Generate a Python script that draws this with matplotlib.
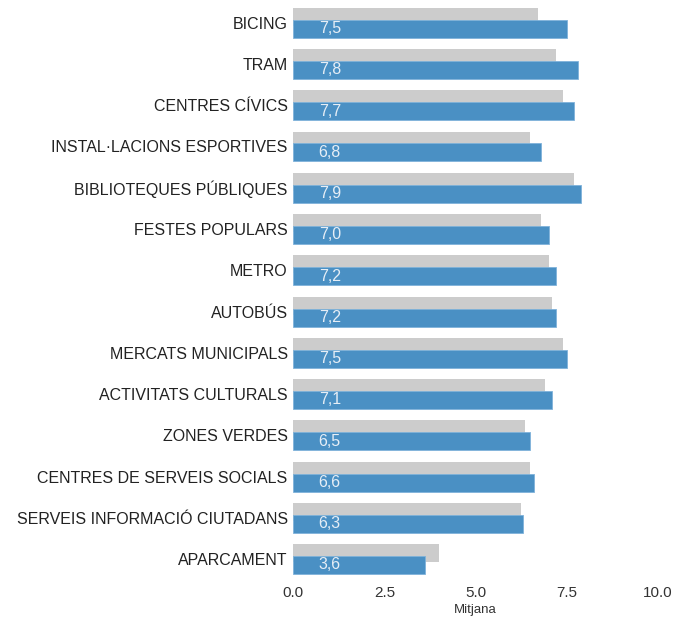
import matplotlib
matplotlib.use("Agg")
import matplotlib.pyplot as plt
import numpy as np

plt.rcParams['font.family'] = ['Liberation Sans', 'DejaVu Sans']

# services, top to bottom
serveis = ["BICING", "TRAM", "CENTRES CÍVICS", "INSTAL·LACIONS ESPORTIVES",
           "BIBLIOTEQUES PÚBLIQUES", "FESTES POPULARS", "METRO", "AUTOBÚS",
           "MERCATS MUNICIPALS", "ACTIVITATS CULTURALS", "ZONES VERDES",
           "CENTRES DE SERVEIS SOCIALS", "SERVEIS INFORMACIÓ CIUTADANS",
           "APARCAMENT"]
# current mean score (blue)
mitjana_actual = [7.5, 7.8, 7.7, 6.8, 7.9, 7.0, 7.2, 7.2, 7.5, 7.1, 6.5, 6.6, 6.3, 3.6]
# previous mean score (grey)
mitjana_anterior = [6.7, 7.2, 7.4, 6.5, 7.7, 6.8, 7.0, 7.1, 7.4, 6.9, 6.35, 6.5, 6.25, 4.0]
xticks = [0.0, 2.5, 5.0, 7.5, 10.0]

blau = "#4a90c4"
gris = "#cccccc"

fig = plt.figure(figsize=(6.77, 6.17), dpi=100)
ax = fig.add_axes([0.4332, 0.057, 0.5388, 0.943])

y = np.arange(len(serveis))
h = 0.436
ax.barh(y - 0.145, mitjana_anterior, height=h, color=gris, zorder=1)
ax.barh(y + 0.145, mitjana_actual, height=h, color=blau, edgecolor="#7fb2da",
        linewidth=0.6, zorder=2)

for yi, v in zip(y, mitjana_actual):
    ax.text(1.0, yi + 0.14, f"{v:.1f}".replace(".", ","), ha="center", va="center",
            color="#e6eef6", fontsize=11.5, zorder=3)

ax.set_xlim(0, 10)
ax.set_ylim(len(serveis) - 0.45, -0.55)
ax.set_yticks(y)
ax.set_yticklabels(serveis, fontsize=11.5, color="#222222")
ax.set_xticks(xticks)
ax.set_xticklabels([f"{t:.1f}" for t in xticks], fontsize=11, color="#333333")
ax.tick_params(axis="both", length=0)
ax.tick_params(axis="y", pad=4)
ax.tick_params(axis="x", pad=3)
ax.set_xlabel("Mitjana", fontsize=9.5, color="#333333", labelpad=3)
for s in ax.spines.values():
    s.set_visible(False)

fig.savefig("out.png", dpi=100)
